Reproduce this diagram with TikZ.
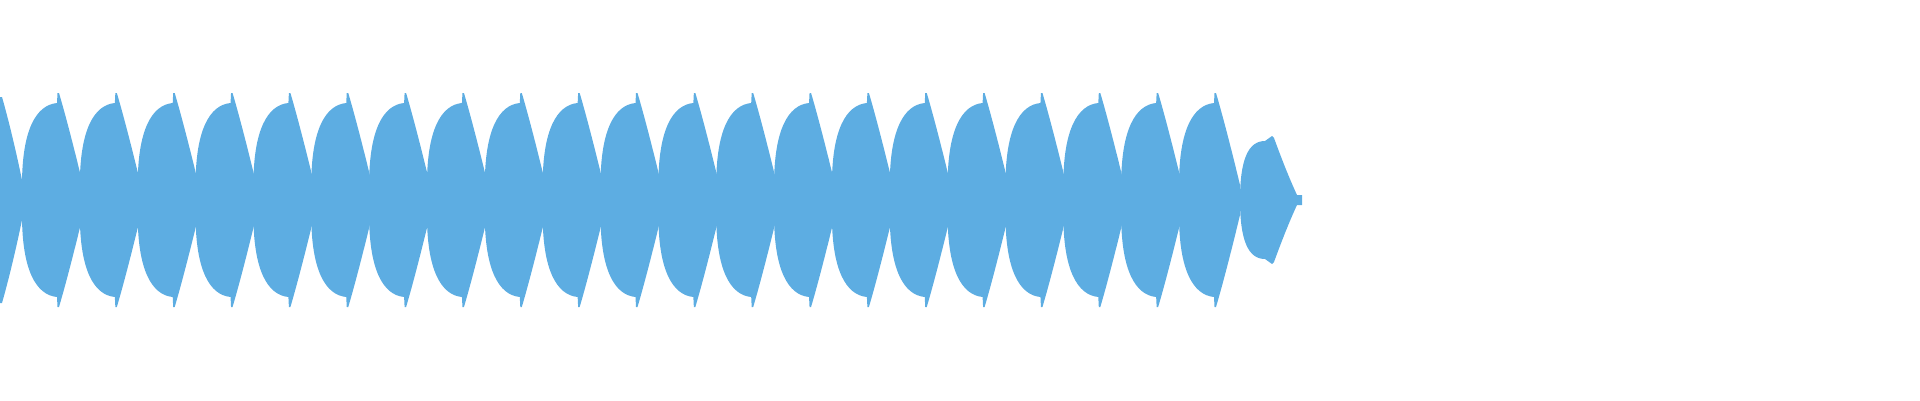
\documentclass[tikz,border=0pt]{standalone}
\definecolor{wave}{HTML}{5DADE2}
\begin{document}
\begin{tikzpicture}[x=1pt,y=-1pt,lobe/.style={fill=wave,draw=none}]
\useasboundingbox (0,0) rectangle (1920,400);
% first partial lobe
\fill[wave] (0,97) -- (2,97) .. controls (10,125) and (18,160) .. (23,185) -- (23,215)
  .. controls (18,240) and (10,275) .. (2,303) -- (0,303) -- cycle;
\foreach \k in {0,...,20}{
  \pgfmathsetmacro{\a}{22+57.85*\k}
  \begin{scope}[shift={(\a,0)}]
  \fill[wave] (0,185) .. controls (0,130) and (14,105) .. (35,103) -- (35.5,93) -- (37,93)
    .. controls (45,120) and (55,160) .. (61,185) -- (61,215)
    .. controls (55,240) and (45,280) .. (37,307) -- (35.5,307) -- (35,297)
    .. controls (14,295) and (0,270) .. (0,215) -- cycle;
  \end{scope}
}
% last small lobe
\fill[wave] (1240,200) .. controls (1240,160) and (1248,141) .. (1265,141) -- (1272,136) -- (1274,138)
  .. controls (1282,160) and (1290,180) .. (1297,195) -- (1302,195) -- (1302,205) -- (1297,205)
  .. controls (1290,220) and (1282,240) .. (1274,262) -- (1272,264) -- (1265,259)
  .. controls (1248,259) and (1240,240) .. (1240,200) -- cycle;
\end{tikzpicture}
\end{document}
